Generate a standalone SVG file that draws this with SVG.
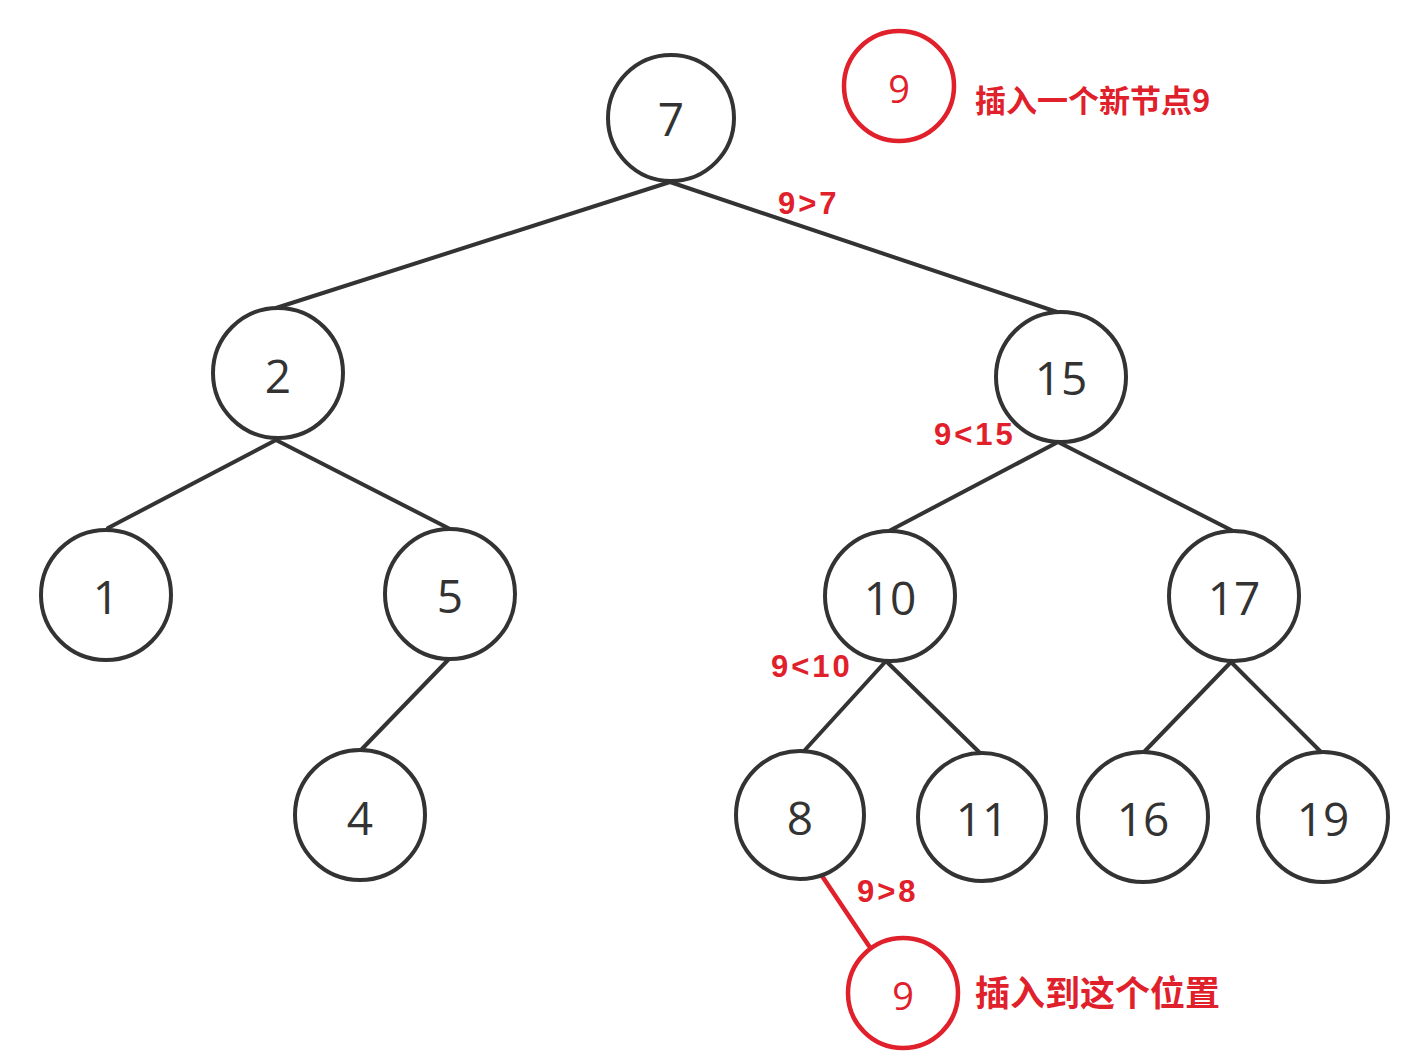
<svg xmlns="http://www.w3.org/2000/svg" width="1424" height="1058" viewBox="0 0 1424 1058">
<style>
.n circle{fill:#fff;stroke:#333;stroke-width:4}
.n text{font-family:"Open Sans","DejaVu Sans",sans-serif;font-size:46px;fill:#333;text-anchor:middle;dominant-baseline:central}
.r circle{fill:none;stroke:#e0202a;stroke-width:4.5}
.r text{font-family:"Open Sans","DejaVu Sans",sans-serif;font-size:38px;fill:#e0202a;text-anchor:middle;dominant-baseline:central}
.e line{stroke:#333;stroke-width:4;stroke-linecap:round}
.lbl{font-family:"Liberation Sans","Noto Sans CJK SC",sans-serif;font-weight:bold;fill:#e0202a;font-size:31px;letter-spacing:3px}
.cn{font-family:"Noto Sans CJK SC",sans-serif;font-weight:bold;fill:#e0202a}
</style>
<rect width="1424" height="1058" fill="#fff"/>
<g id="edges" class="e">
<line x1="670" y1="182" x2="276" y2="308"/>
<line x1="670" y1="182" x2="1060" y2="313"/>
<line x1="276" y1="440" x2="108" y2="528"/>
<line x1="276" y1="440" x2="450" y2="529"/>
<line x1="1058" y1="442" x2="889" y2="531"/>
<line x1="1058" y1="442" x2="1233" y2="531"/>
<line x1="448" y1="660" x2="361" y2="750"/>
<line x1="886" y1="661" x2="804" y2="751"/>
<line x1="886" y1="661" x2="979" y2="752"/>
<line x1="1231" y1="662" x2="1143" y2="753"/>
<line x1="1231" y1="662" x2="1321" y2="752"/>
<line x1="820" y1="873" x2="869" y2="946" style="stroke:#e0202a;stroke-width:4.5"/>
</g>
<g id="n7" class="n"><circle cx="671" cy="118" r="63"/><text x="671" y="118">7</text></g>
<g id="n2" class="n"><circle cx="278" cy="373" r="65"/><text x="278" y="375">2</text></g>
<g id="n15" class="n"><circle cx="1061" cy="377" r="65"/><text x="1061" y="377">15</text></g>
<g id="n1" class="n"><circle cx="106" cy="595" r="65"/><text x="106" y="596">1</text></g>
<g id="n5" class="n"><circle cx="450" cy="594" r="65"/><text x="450" y="595">5</text></g>
<g id="n10" class="n"><circle cx="890" cy="596" r="65"/><text x="890" y="597">10</text></g>
<g id="n17" class="n"><circle cx="1234" cy="596" r="65"/><text x="1234" y="597">17</text></g>
<g id="n4" class="n"><circle cx="360" cy="815" r="65"/><text x="360" y="817">4</text></g>
<g id="n8" class="n"><circle cx="800" cy="815" r="64"/><text x="800" y="817">8</text></g>
<g id="n11" class="n"><circle cx="982" cy="817" r="64"/><text x="982" y="818">11</text></g>
<g id="n16" class="n"><circle cx="1143" cy="817" r="65"/><text x="1143" y="818">16</text></g>
<g id="n19" class="n"><circle cx="1323" cy="817" r="65"/><text x="1323" y="818">19</text></g>
<g id="new9" class="r"><circle cx="899" cy="86" r="55"/><text x="899" y="88">9</text></g>
<g id="pos9" class="r"><circle cx="903" cy="993" r="55"/><text x="903" y="995">9</text></g>
<g id="labels">
<text class="lbl" x="778" y="214">9&gt;7</text>
<text class="lbl" x="934" y="445">9&lt;15</text>
<text class="lbl" x="771" y="677">9&lt;10</text>
<text class="lbl" x="857" y="902">9&gt;8</text>
<text class="cn" x="975" y="112" font-size="31">插入一个新节点9</text>
<text class="cn" x="975" y="1006" font-size="35">插入到这个位置</text>
</g>
</svg>
